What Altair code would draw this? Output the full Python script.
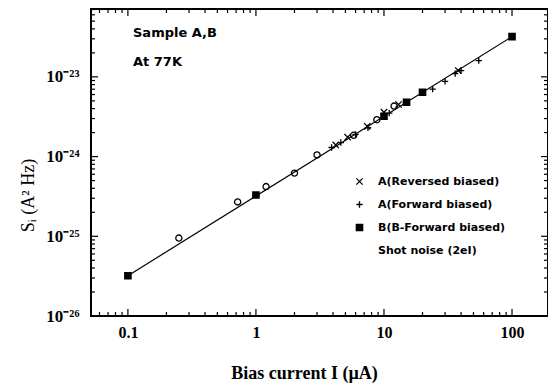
import altair as alt
import pandas as pd

# ---------------- data ----------------
series_names = ["A(Reversed biased)", "A(Forward biased)", "B(B-Forward biased)", "Shot noise (2eI)"]

rev_I = [4.2, 5.2, 7.4, 10.0, 13.0, 38.0]
rev_S = [1.4e-24, 1.75e-24, 2.4e-24, 3.6e-24, 4.5e-24, 1.2e-23]

fwd_I = [3.9, 4.6, 6.0, 7.5, 11.0, 24.0, 30.0, 36.0, 40.0, 55.0]
fwd_S = [1.3e-24, 1.5e-24, 1.9e-24, 2.3e-24, 3.5e-24, 7.0e-24, 8.8e-24, 1.1e-23, 1.2e-23, 1.6e-23]

b_I = [0.1, 1.0, 10.0, 15.0, 20.0, 100.0]
b_S = [3.2e-26, 3.3e-25, 3.2e-24, 4.8e-24, 6.4e-24, 3.2e-23]

circ_I = [0.25, 0.72, 1.2, 2.0, 3.0, 5.8, 8.8, 12.0]
circ_S = [9.5e-26, 2.7e-25, 4.2e-25, 6.2e-25, 1.05e-24, 1.85e-24, 2.9e-24, 4.3e-24]

shot_I = [0.1, 100.0]
shot_S = [3.2e-26, 3.2e-23]

x_major = [0.1, 1, 10, 100]
x_minor = [0.06, 0.07, 0.08, 0.09, 0.2, 0.3, 0.4, 0.5, 0.6, 0.7, 0.8, 0.9,
           2, 3, 4, 5, 6, 7, 8, 9, 20, 30, 40, 50, 60, 70, 80, 90]
y_major = [1e-26, 1e-25, 1e-24, 1e-23]
y_minor = [2e-26, 3e-26, 4e-26, 5e-26, 6e-26, 7e-26, 8e-26, 9e-26,
           2e-25, 3e-25, 4e-25, 5e-25, 6e-25, 7e-25, 8e-25, 9e-25,
           2e-24, 3e-24, 4e-24, 5e-24, 6e-24, 7e-24, 8e-24, 9e-24,
           2e-23, 3e-23, 4e-23, 5e-23, 6e-23, 7e-23]
y_tick_labels = ["10\u207b\u00b2\u2076", "10\u207b\u00b2\u2075", "10\u207b\u00b2\u2074", "10\u207b\u00b2\u00b3"]

notes = ["Sample A,B", "At 77K"]

# ---------------- tables ----------------
pts = pd.DataFrame({
    "I": rev_I + fwd_I + b_I,
    "S": rev_S + fwd_S + b_S,
    "series": [series_names[0]] * len(rev_I) + [series_names[1]] * len(fwd_I) + [series_names[2]] * len(b_I),
})
circ = pd.DataFrame({"I": circ_I, "S": circ_S})
shot = pd.DataFrame({"I": shot_I, "S": shot_S})

W, H = 457, 307
MAJ, MIN = 7, 4
serif = "Liberation Serif"
sans = "DejaVu Sans"

xscale = alt.Scale(type="log", domain=[0.0515, 191], nice=False)
yscale = alt.Scale(type="log", domain=[1e-26, 7.1e-23], nice=False)

label_arr = "[" + ",".join("'" + s + "'" for s in y_tick_labels) + "]"

xaxis = alt.Axis(values=x_major, format="~g", ticks=False, domain=False, grid=False,
                 labelFont=serif, labelFontSize=16, labelFontWeight="bold", labelColor="black",
                 labelPadding=8,
                 title="Bias current I (\u00b5A)", titleFont=serif, titleFontSize=18,
                 titleFontWeight="bold", titleColor="black", titleX=213, titleY=57,
                 titleAlign="center", titleBaseline="middle")
yaxis = alt.Axis(values=y_major, labelExpr=label_arr + "[round(log(datum.value)/LN10)+26]",
                 ticks=False, domain=False, grid=False,
                 labelFont=serif, labelFontSize=17, labelFontWeight="bold", labelColor="black",
                 labelPadding=12,
                 title="S\u1d62 (A\u00b2 Hz)", titleFont=serif, titleFontSize=18,
                 titleFontWeight="normal", titleColor="black", titleAngle=270,
                 titleX=-63, titleY=186, titleAlign="center", titleBaseline="middle")

X = lambda f: alt.X(f, scale=xscale, axis=xaxis)
Y = lambda f: alt.Y(f, scale=yscale, axis=yaxis)

line = alt.Chart(shot).mark_line(color="black", strokeWidth=1.2).encode(x=X("I:Q"), y=Y("S:Q"))

circles = alt.Chart(circ).mark_point(shape="circle", filled=False, color="black",
                                      size=38, strokeWidth=1.3, opacity=1).encode(
    x=X("I:Q"), y=Y("S:Q"))

legend = alt.Legend(orient="none", legendX=263, legendY=167, title=None,
                    labelFont=sans, labelFontWeight="bold", labelFontSize=11,
                    labelColor="black", rowPadding=10, labelOffset=13,
                    symbolSize=40, symbolStrokeWidth=1.3, symbolStrokeColor="black",
                    padding=0)
# x, plus, solid square (drawn as dense stroked lines), nothing for the line entry
shape_range = ["M-1,-1L1,1M-1,1L1,-1", "M-1,0L1,0M0,-1L0,1",
               "M-1,-1H1V1H-1ZM-1,-0.6H1M-1,-0.2H1M-1,0.2H1M-1,0.6H1", "M0,0"]
points = alt.Chart(pts).mark_point(filled=False, color="black",
                                   strokeWidth=1.3, size=40, opacity=1).encode(
    x=X("I:Q"), y=Y("S:Q"),
    shape=alt.Shape("series:N", scale=alt.Scale(domain=series_names, range=shape_range), legend=legend),
)

note1 = alt.Chart(pd.DataFrame({"t": [notes[0]]})).mark_text(
    align="left", baseline="middle", font=sans, fontWeight="bold", fontSize=13, color="black"
).encode(text="t:N", x=alt.value(42), y=alt.value(24))
note2 = alt.Chart(pd.DataFrame({"t": [notes[1]]})).mark_text(
    align="left", baseline="middle", font=sans, fontWeight="bold", fontSize=13, color="black"
).encode(text="t:N", x=alt.value(42), y=alt.value(53))

tick_layers = []
for vals, L in ((x_major, MAJ), (x_minor, MIN)):
    d = pd.DataFrame({"I": vals})
    tick_layers.append(alt.Chart(d).mark_rule(color="black", strokeWidth=1.2).encode(
        x=X("I:Q"), y=alt.value(H), y2=alt.value(H - L)))
    tick_layers.append(alt.Chart(d).mark_rule(color="black", strokeWidth=1.2).encode(
        x=X("I:Q"), y=alt.value(0), y2=alt.value(L)))
for vals, L in ((y_major, MAJ), (y_minor, MIN)):
    d = pd.DataFrame({"S": vals})
    tick_layers.append(alt.Chart(d).mark_rule(color="black", strokeWidth=1.2).encode(
        y=Y("S:Q"), x=alt.value(0), x2=alt.value(L)))
    tick_layers.append(alt.Chart(d).mark_rule(color="black", strokeWidth=1.2).encode(
        y=Y("S:Q"), x=alt.value(W), x2=alt.value(W - L)))

chart = alt.layer(line, circles, points, note1, note2, *tick_layers).properties(
    width=W, height=H,
    padding={"left": 83, "top": 1, "right": 0, "bottom": 70},
    autosize=alt.AutoSizeParams(type="none"),
    background="white",
).configure_view(stroke="black", strokeWidth=2)

chart.save("out.html", embed_options={"renderer": "svg", "actions": False})
